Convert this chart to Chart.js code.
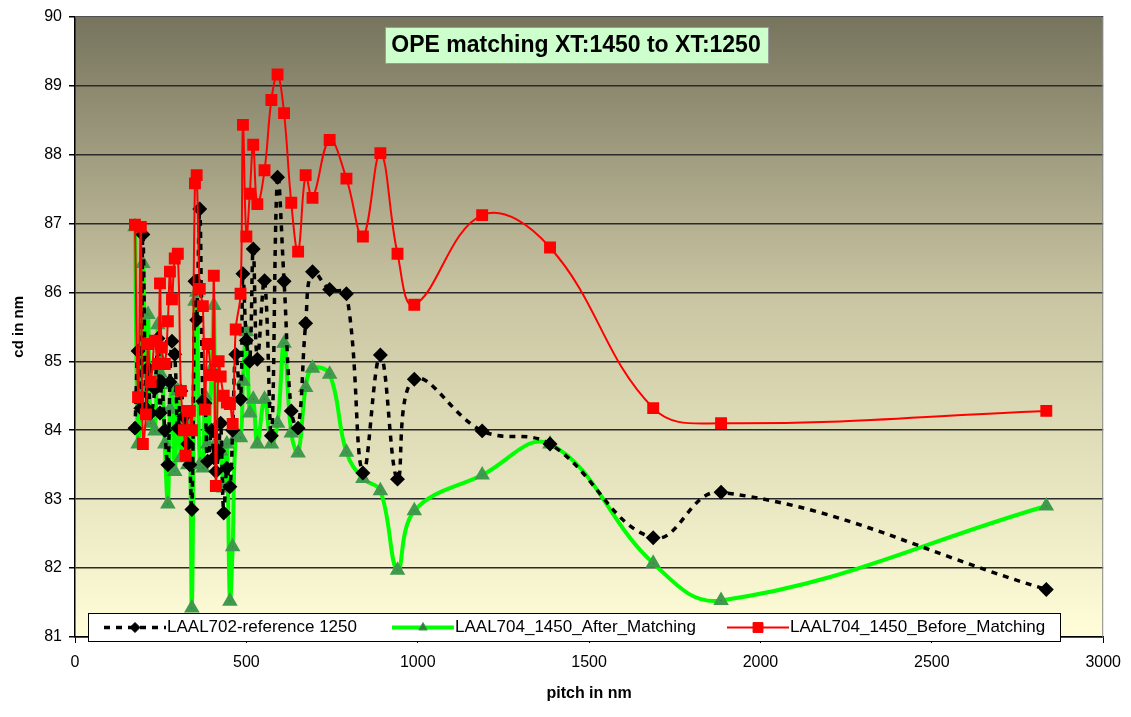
<!DOCTYPE html>
<html lang="en">
<head>
<meta charset="UTF-8"/>
<title>OPE matching XT:1450 to XT:1250</title>
<script src="https://cdn.jsdelivr.net/npm/chart.js@4.4.0/dist/chart.umd.min.js"></script>
<style>
  body { margin: 0; background: #fff; }
</style>
</head>
<body>
<canvas id="chart" width="1131" height="717"></canvas>

<script>
// pitch in nm, shared by all three runs
const pitch = [
  175, 184, 192, 198, 207, 213, 221, 233, 242, 248,
  253, 262, 271, 277, 283, 291, 300, 309, 318, 323,
  329, 335, 341, 350, 355, 364, 373, 379, 387, 399,
  405, 411, 419, 425, 434, 443, 452, 460, 469, 483,
  490, 500, 510, 520, 532, 553, 573, 591, 610, 631,
  651, 673, 693, 743, 792, 840, 891, 941, 990, 1188,
  1386, 1687, 1885, 2834
];

// cd in nm
const refCd = [
  84.03, 85.15, 84.32, 86.84, 84.32, 84.90, 84.25, 84.60, 85.33, 84.25,
  84.70, 84.00, 83.50, 84.70, 85.29, 85.10, 84.03, 84.57, 84.20, 84.02,
  83.80, 83.50, 82.85, 86.16, 85.60, 87.21, 84.42, 84.39, 83.55, 84.00,
  83.60, 83.40, 83.70, 84.10, 82.80, 83.45, 83.18, 84.00, 85.10, 84.45,
  86.27, 85.30, 85.00, 86.63, 85.03, 86.17, 83.92, 87.67, 86.16, 84.28,
  84.03, 85.55, 86.30, 86.04, 85.98, 83.38, 85.09, 83.29, 84.74, 83.99,
  83.80, 82.44, 83.10, 81.69
];

const afterCd = [
  86.95, 83.80, 84.61, 86.42, 84.81, 85.68, 84.10, 83.99, 85.53, 84.83,
  85.00, 83.80, 82.93, 84.30, 84.66, 83.40, 84.57, 83.60, 84.00, 84.13,
  83.50, 84.00, 81.42, 85.87, 86.00, 83.50, 83.45, 84.50, 83.80, 84.90,
  85.81, 83.81, 83.80, 83.70, 83.16, 83.80, 81.52, 82.31, 83.90, 83.89,
  84.71, 85.43, 84.25, 84.45, 83.80, 84.45, 83.80, 84.10, 85.26, 83.96,
  83.67, 84.62, 84.90, 84.81, 83.68, 83.30, 83.12, 81.97, 82.83, 83.35,
  83.80, 82.07, 81.53, 82.90
];

const beforeCd = [
  86.98, 84.48, 86.95, 83.80, 84.23, 85.25, 84.70, 85.30, 84.96, 86.13,
  85.20, 84.96, 85.58, 86.30, 85.90, 86.49, 86.56, 84.57, 84.00, 83.63,
  84.28, 84.28, 84.00, 87.58, 87.70, 86.05, 85.80, 84.30, 85.25, 84.80,
  86.24, 83.19, 85.00, 84.78, 84.50, 84.40, 84.38, 84.09, 85.46, 85.98,
  88.43, 86.81, 87.43, 88.14, 87.28, 87.77, 88.79, 89.16, 88.60, 87.30,
  86.59, 87.70, 87.37, 88.21, 87.65, 86.81, 88.02, 86.56, 85.82, 87.12,
  86.65, 84.32, 84.10, 84.28
];

const seriesNames = [
  'LAAL702-reference 1250',
  'LAAL704_1450_After_Matching',
  'LAAL704_1450_Before_Matching'
];
const xTicks = [0, 500, 1000, 1500, 2000, 2500, 3000];
const yTicks = [81, 82, 83, 84, 85, 86, 87, 88, 89, 90];
const chartTitle = 'OPE matching XT:1450 to XT:1250';

const FONT = '"Liberation Sans", Arial, sans-serif';

function pts(ys) {
  return pitch.map((p, i) => ({ x: p, y: ys[i] }));
}

function drawMarker(ctx, style, r, x, y) {
  Chart.helpers.drawPoint(ctx, { pointStyle: style, radius: r, borderWidth: 1 }, x, y);
}

// background gradient, frame, title box and the legend inside the plot
const plotDecor = {
  id: 'plotDecor',
  beforeDraw(chart) {
    const { ctx, chartArea: a } = chart;
    const g = ctx.createLinearGradient(0, a.top, 0, a.bottom);
    g.addColorStop(0, '#77745e');
    g.addColorStop(0.45, '#c9c5a2');
    g.addColorStop(1, '#fffed8');
    ctx.save();
    ctx.fillStyle = g;
    ctx.fillRect(a.left, a.top, a.right - a.left, a.bottom - a.top);
    ctx.restore();
  },
  afterDraw(chart) {
    const { ctx, chartArea: a } = chart;
    ctx.save();
    // right and top frame
    ctx.strokeStyle = '#8a8a8a';
    ctx.lineWidth = 1;
    ctx.beginPath();
    ctx.moveTo(a.left, a.top + 0.5);
    ctx.lineTo(a.right - 0.5, a.top + 0.5);
    ctx.lineTo(a.right - 0.5, a.bottom);
    ctx.stroke();

    // title box
    ctx.fillStyle = '#ccffcc';
    ctx.fillRect(385, 27, 383, 36);
    ctx.strokeStyle = '#9a9a9a';
    ctx.strokeRect(385.5, 27.5, 383, 36);
    ctx.fillStyle = '#000';
    ctx.font = 'bold 23px ' + FONT;
    ctx.textAlign = 'center';
    ctx.textBaseline = 'middle';
    ctx.fillText(chartTitle, 576, 46);

    // legend
    const lx = 88, ly = 613, lw = 972, lh = 28;
    ctx.fillStyle = '#fff';
    ctx.fillRect(lx, ly, lw, lh);
    ctx.strokeStyle = '#000';
    ctx.lineWidth = 1;
    ctx.strokeRect(lx + 0.5, ly + 0.5, lw, lh);
    const cy = ly + lh / 2 + 0.5;
    const starts = [104, 392, 727];
    chart.data.datasets.forEach((ds, i) => {
      const x0 = starts[i], x1 = x0 + 62;
      ctx.save();
      ctx.strokeStyle = ds.borderColor;
      ctx.lineWidth = ds.borderWidth;
      ctx.setLineDash(ds.borderDash || []);
      ctx.beginPath();
      ctx.moveTo(x0, cy);
      ctx.lineTo(x1, cy);
      ctx.stroke();
      ctx.restore();
      ctx.save();
      ctx.fillStyle = ds.pointBackgroundColor;
      ctx.strokeStyle = ds.pointBorderColor;
      ctx.lineWidth = 1;
      drawMarker(ctx, ds.pointStyle, ds.pointRadius, (x0 + x1) / 2, cy);
      ctx.restore();
      ctx.fillStyle = '#000';
      ctx.font = '17px ' + FONT;
      ctx.textAlign = 'left';
      ctx.textBaseline = 'middle';
      ctx.fillText(ds.label, x1 + 1, cy);
    });
    ctx.restore();
  }
};

const ctx = document.getElementById('chart').getContext('2d');

new Chart(ctx, {
  type: 'line',
  data: {
    datasets: [
      {
        label: seriesNames[0],
        data: pts(refCd),
        borderColor: '#000',
        borderWidth: 3.5,
        borderDash: [6, 6],
        pointStyle: 'rectRot',
        pointRadius: 5,
        pointBackgroundColor: '#000',
        pointBorderColor: '#000',
        tension: 0.4,
        order: 1
      },
      {
        label: seriesNames[1],
        data: pts(afterCd),
        borderColor: '#00ff00',
        borderWidth: 4,
        pointStyle: 'triangle',
        pointRadius: 5,
        pointBackgroundColor: '#2f7d3c',
        pointBorderColor: '#3f9a4c',
        tension: 0.4,
        order: 2
      },
      {
        label: seriesNames[2],
        data: pts(beforeCd),
        borderColor: '#ff0000',
        borderWidth: 2,
        pointStyle: 'rect',
        pointRadius: 7,
        pointBackgroundColor: '#ff0000',
        pointBorderColor: '#ff0000',
        tension: 0.4,
        order: 0
      }
    ]
  },
  options: {
    responsive: false,
    animation: false,
    layout: { padding: { left: 0, right: 19, top: 14, bottom: 0 } },
    plugins: {
      legend: { display: false },
      tooltip: { enabled: false }
    },
    scales: {
      x: {
        type: 'linear',
        min: 0,
        max: 3000,
        afterFit(scale) { scale.height = 80; },
        afterBuildTicks(scale) { scale.ticks = xTicks.map(v => ({ value: v })); },
        ticks: {
          color: '#000',
          padding: 10,
          font: { family: FONT, size: 16 },
          callback: v => String(v)
        },
        grid: { drawOnChartArea: false, drawTicks: true, tickLength: 6, tickColor: '#000' },
        border: { display: true, color: '#000', width: 1.5 },
        title: {
          display: true,
          text: 'pitch in nm',
          color: '#000',
          font: { family: FONT, size: 16, weight: 'bold' },
          padding: { top: 0, bottom: 14 }
        }
      },
      y: {
        min: 81,
        max: 90,
        afterFit(scale) { scale.width = 75; },
        afterBuildTicks(scale) { scale.ticks = yTicks.map(v => ({ value: v })); },
        ticks: { color: '#000', padding: 7, font: { family: FONT, size: 16 } },
        grid: { color: '#2a2a2a', lineWidth: 1.5, tickLength: 6, tickColor: '#000' },
        border: { display: true, color: '#000', width: 1.5 },
        title: {
          display: true,
          text: 'cd in nm',
          color: '#000',
          font: { family: FONT, size: 15, weight: 'bold' },
          padding: { top: 10, bottom: 4 }
        }
      }
    }
  },
  plugins: [plotDecor]
});
</script>
</body>
</html>
